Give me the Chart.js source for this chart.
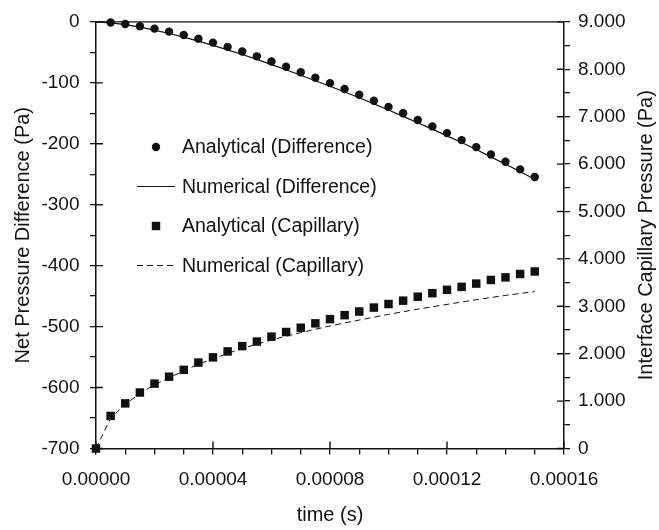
<!DOCTYPE html>
<html>
<head>
<meta charset="utf-8">
<script src="https://cdn.jsdelivr.net/npm/chart.js@4"></script>
<style>
html,body{margin:0;padding:0;background:#fff;}
#wrap{position:relative;width:659px;height:530px;}
</style>
</head>
<body>
<div id="wrap"><canvas id="c" width="659" height="530"></canvas></div>
<script>
// ---- data ----
const timesAnalyticalDiff = [0.000005,0.00001,0.000015,0.00002,0.000025,0.00003,0.000035,0.00004,0.000045,0.00005,0.000055,0.00006,0.000065,0.00007,0.000075,0.00008,0.000085,0.00009,0.000095,0.0001,0.000105,0.00011,0.000115,0.00012,0.000125,0.00013,0.000135,0.00014,0.000145,0.00015];
const analyticalDifference = [-1,-3.5,-7,-11,-16,-21.5,-27.5,-34,-41,-48.5,-56.5,-65,-73.5,-82.5,-91.5,-100.5,-110,-119.5,-129.5,-139.5,-150,-161,-171.5,-182.5,-194,-205.5,-217.5,-229.5,-242,-254.5];

const timesFull = [0,0.000005,0.00001,0.000015,0.00002,0.000025,0.00003,0.000035,0.00004,0.000045,0.00005,0.000055,0.00006,0.000065,0.00007,0.000075,0.00008,0.000085,0.00009,0.000095,0.0001,0.000105,0.00011,0.000115,0.00012,0.000125,0.00013,0.000135,0.00014,0.000145,0.00015];
const numericalDifference = [0,-1.5,-4.5,-8.5,-13.5,-19,-25,-31.5,-38.5,-46,-53.5,-61.5,-70,-78.5,-87.5,-96.5,-105.5,-115,-124.5,-134.5,-144.5,-155,-165.5,-176,-187,-198,-209.5,-221.5,-233.5,-245.5,-258.5];
const analyticalCapillary = [0,687,952,1181,1369,1515,1660,1813,1923,2048,2160,2256,2360,2458,2548,2640,2729,2813,2890,2973,3048,3119,3202,3277,3348,3410,3479,3556,3610,3681,3735];
const numericalCapillary = [0,640,930,1160,1345,1495,1635,1780,1890,2005,2110,2200,2290,2370,2445,2515,2585,2650,2710,2770,2830,2885,2940,2990,3040,3090,3140,3185,3230,3270,3310];

const seriesLabels = ['Analytical (Difference)','Numerical (Difference)','Analytical (Capillary)','Numerical (Capillary)'];
const xTickLabels = ['0.00000','0.00004','0.00008','0.00012','0.00016'];
const leftTickLabels = ['-700','-600','-500','-400','-300','-200','-100','0'];
const rightTickLabels = ['0','1.000','2.000','3.000','4.000','5.000','6.000','7.000','8.000','9.000'];
const xTitle = 'time (s)';
const leftTitle = 'Net Pressure Difference (Pa)';
const rightTitle = 'Interface Capillary Pressure (Pa)';

// ---- chart ----
const FONT = '"Liberation Sans", Arial, Helvetica, sans-serif';
const INK = '#111';
const pts = (xs, ys) => xs.map((x, i) => ({x, y: ys[i]}));

const innerTicks = {
  id: 'innerTicks',
  afterDraw(chart) {
    const ctx = chart.ctx, a = chart.chartArea;
    ctx.save();
    ctx.strokeStyle = INK;
    ctx.lineWidth = 1.4;
    // top frame line
    ctx.beginPath(); ctx.moveTo(a.left, a.top); ctx.lineTo(a.right, a.top); ctx.stroke();
    const xs = chart.scales.x, yl = chart.scales.y, yr = chart.scales.y2;
    ctx.beginPath();
    xs.ticks.forEach((t, i) => { if (i % 4 === 0) { const p = xs.getPixelForTick(i); ctx.moveTo(p, a.bottom); ctx.lineTo(p, a.bottom - 7); } });
    yl.ticks.forEach((t, i) => { if (i % 2 === 0) { const p = yl.getPixelForTick(i); ctx.moveTo(a.left, p); ctx.lineTo(a.left + 7, p); } });
    yr.ticks.forEach((t, i) => { if (i % 2 === 0) { const p = yr.getPixelForTick(i); ctx.moveTo(a.right, p); ctx.lineTo(a.right - 7, p); } });
    ctx.stroke();
    ctx.restore();
  }
};

const customText = {
  id: 'customText',
  afterDraw(chart) {
    const ctx = chart.ctx, a = chart.chartArea;
    const ds = chart.data.datasets;
    ctx.save();
    ctx.fillStyle = INK;
    ctx.strokeStyle = INK;
    // right title (reads bottom to top, centred on plot height)
    ctx.font = '20px ' + FONT;
    ctx.textAlign = 'center';
    ctx.textBaseline = 'middle';
    ctx.save();
    ctx.translate(646, (a.top + a.bottom) / 2);
    ctx.rotate(-Math.PI / 2);
    ctx.fillText(rightTitle, 0, 0);
    ctx.restore();
    // legend
    const rows = [147, 186.5, 226, 265.5];
    const sx = 156, lx0 = 137, lx1 = 175, tx = 182;
    ctx.textAlign = 'left';
    ctx.font = '19.5px ' + FONT;
    ds.forEach((d, i) => {
      const y = rows[i];
      if (d.showLine) {
        ctx.save();
        ctx.lineWidth = d.borderWidth;
        ctx.setLineDash(d.borderDash || []);
        ctx.beginPath(); ctx.moveTo(lx0, y); ctx.lineTo(lx1, y); ctx.stroke();
        ctx.restore();
      } else {
        ctx.beginPath();
        if (d.pointStyle === 'rect') {
          const s = d.pointRadius * Math.SQRT1_2;
          ctx.rect(sx - s, y - s, 2 * s, 2 * s);
        } else {
          ctx.arc(sx, y, d.pointRadius, 0, Math.PI * 2);
        }
        ctx.fill();
      }
      ctx.fillText(d.label, tx, y + 1);
    });
    ctx.restore();
  }
};

new Chart(document.getElementById('c'), {
  type: 'scatter',
  data: {
    datasets: [
      {label: seriesLabels[0], data: pts(timesAnalyticalDiff, analyticalDifference), yAxisID: 'y',
       showLine: false, pointStyle: 'circle', pointRadius: 4.2, backgroundColor: INK, borderColor: INK, borderWidth: 0, clip: false},
      {label: seriesLabels[1], data: pts(timesFull, numericalDifference), yAxisID: 'y',
       showLine: true, pointRadius: 0, borderColor: INK, borderWidth: 1.2, clip: false},
      {label: seriesLabels[2], data: pts(timesFull, analyticalCapillary), yAxisID: 'y2',
       showLine: false, pointStyle: 'rect', pointRadius: 6, backgroundColor: INK, borderColor: INK, borderWidth: 0, clip: false},
      {label: seriesLabels[3], data: pts(timesFull, numericalCapillary), yAxisID: 'y2',
       showLine: true, pointRadius: 0, borderColor: INK, borderWidth: 1, borderDash: [6, 4], clip: false}
    ]
  },
  options: {
    responsive: false,
    animation: false,
    layout: {padding: {top: 15.5, left: 0, right: 0, bottom: 0}},
    plugins: {legend: {display: false}, tooltip: {enabled: false}},
    scales: {
      x: {
        type: 'linear', position: 'bottom', min: 0, max: 0.00016,
        afterFit(s) { s.height = 81.5; },
        border: {display: true, color: INK, width: 1.5},
        grid: {drawOnChartArea: false, drawTicks: true, tickLength: 6, color: INK, lineWidth: 1.3},
        ticks: {stepSize: 0.00001, autoSkip: false, maxRotation: 0, padding: 14, color: INK,
                font: {family: FONT, size: 19},
                callback: (v, i) => (i % 4 === 0 ? xTickLabels[i / 4] : '')},
        title: {display: true, text: xTitle, color: INK, font: {family: FONT, size: 20}, padding: {top: 0, bottom: 3}}
      },
      y: {
        type: 'linear', position: 'left', min: -700, max: 0,
        afterFit(s) { s.width = 96; },
        border: {display: true, color: INK, width: 1.5},
        grid: {drawOnChartArea: false, drawTicks: true, tickLength: 6, color: INK, lineWidth: 1.3},
        ticks: {stepSize: 50, autoSkip: false, padding: 10.5, color: INK,
                font: {family: FONT, size: 19},
                callback: (v, i) => (i % 2 === 0 ? leftTickLabels[i / 2] : '')},
        title: {display: true, text: leftTitle, color: INK, font: {family: FONT, size: 20}, padding: {top: 11, bottom: 0}}
      },
      y2: {
        type: 'linear', position: 'right', min: 0, max: 9000,
        afterFit(s) { s.width = 95; },
        border: {display: true, color: INK, width: 1.5},
        grid: {drawOnChartArea: false, drawTicks: true, tickLength: 6, color: INK, lineWidth: 1.3},
        ticks: {stepSize: 500, autoSkip: false, padding: 8, color: INK,
                font: {family: FONT, size: 19},
                callback: (v, i) => (i % 2 === 0 ? rightTickLabels[i / 2] : '')}
      }
    }
  },
  plugins: [innerTicks, customText]
});
</script>
</body>
</html>
